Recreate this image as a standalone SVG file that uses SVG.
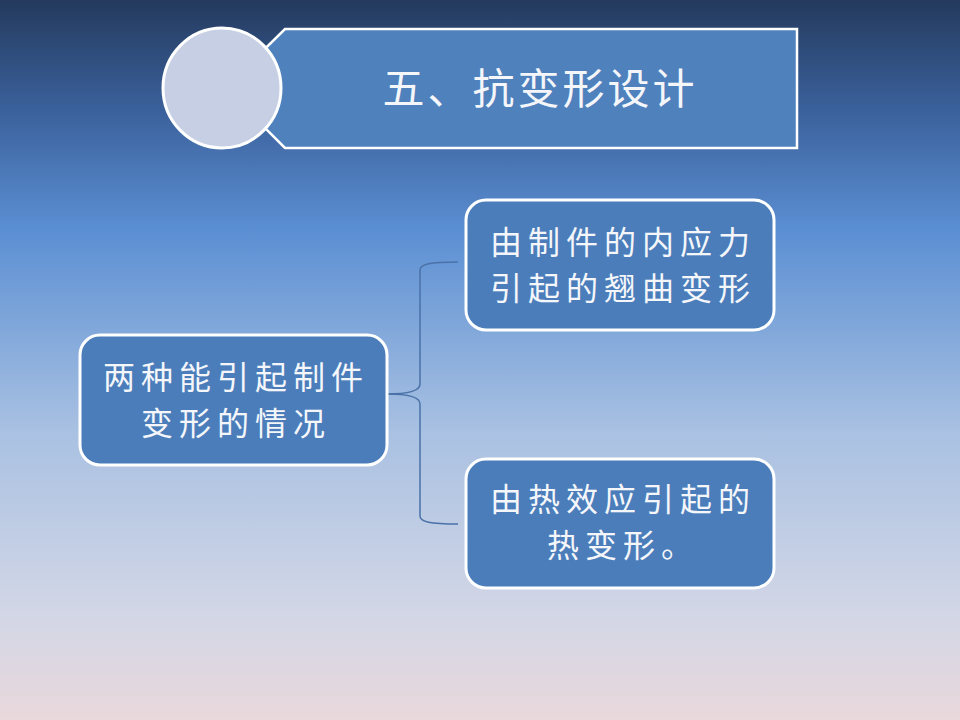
<svg xmlns="http://www.w3.org/2000/svg" width="960" height="720" viewBox="0 0 960 720">
<defs>
<linearGradient id="bg" x1="0" y1="0" x2="0" y2="1">
<stop offset="0" stop-color="#243a5e"/>
<stop offset="0.15" stop-color="#3a609a"/>
<stop offset="0.32" stop-color="#5b8fd3"/>
<stop offset="0.6" stop-color="#a9c1e2"/>
<stop offset="0.85" stop-color="#d2d6e6"/>
<stop offset="1" stop-color="#e9d8dc"/>
</linearGradient>
<style>
.box{fill:#4a7dba;stroke:#ffffff;stroke-width:3}
.t{font-family:"Noto Sans CJK SC","Noto Sans",sans-serif;fill:#f4f6fa;text-anchor:middle;font-size:32px;letter-spacing:6px}
.c{fill:none;stroke:#4a72a8;stroke-width:1.5}
</style>
</defs>
<rect x="0" y="0" width="960" height="720" fill="url(#bg)"/>
<g id="title">
<polygon points="285,29 797,29 797,148 285,148 225,88" fill="#4f81bd" stroke="#ffffff" stroke-width="2.5"/>
<ellipse cx="222" cy="88" rx="59" ry="60" fill="#c6cfe3" stroke="#ffffff" stroke-width="3"/>
<text class="t" x="540" y="104" style="font-size:42px;letter-spacing:3px">五、抗变形设计</text>
</g>
<g id="connectors">
<path class="c" d="M387,394 C405,394 420,392 420,384 L420,270 C420,264 430,262 458,262"/>
<path class="c" d="M387,394 C405,394 420,396 420,404 L420,516 C420,522 430,524 458,524"/>
</g>
<g id="left">
<rect class="box" x="80" y="335" width="307" height="130" rx="20"/>
<text class="t" x="236" y="389">两种能引起制件</text>
<text class="t" x="236" y="435">变形的情况</text>
</g>
<g id="top-right">
<rect class="box" x="466" y="200" width="308" height="130" rx="20"/>
<text class="t" x="623" y="254">由制件的内应力</text>
<text class="t" x="623" y="300">引起的翘曲变形</text>
</g>
<g id="bottom-right">
<rect class="box" x="466" y="459" width="308" height="129" rx="20"/>
<text class="t" x="623" y="511">由热效应引起的</text>
<text class="t" x="623" y="557">热变形。</text>
</g>
</svg>
